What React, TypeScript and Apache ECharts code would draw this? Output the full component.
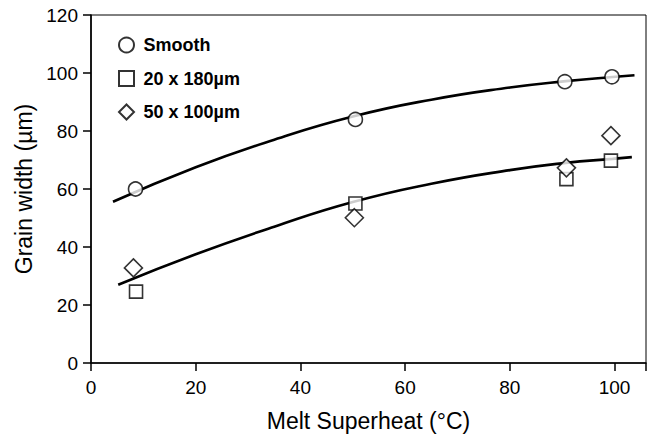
import React, { useEffect, useRef } from "react";
import * as echarts from "echarts";

const xTicks = [0, 20, 40, 60, 80, 100];
const yTicks = [0, 20, 40, 60, 80, 100, 120];

const smooth = [[8.5, 60], [50.5, 84], [90.5, 97], [99.5, 98.7]];
const rect20x180 = [[8.6, 24.6], [50.5, 55], [90.8, 63.4], [99.3, 69.8]];
const diamond50x100 = [[8.1, 32.8], [50.3, 50.1], [90.8, 67.3], [99.3, 78.4]];

const fitSmooth = [[4.2, 55.6], [20, 67.5], [35, 77], [50, 85], [65, 90.8], [80, 95], [90.7, 97.2], [99.6, 98.6], [103.8, 99.2]];
const fitTextured = [[5.2, 27], [20, 37.5], [35, 47], [50, 55.5], [65, 61.8], [80, 66.5], [90.7, 69], [99.6, 70.4], [103.3, 71]];

const names = ["Smooth", "20 x 180\u00b5m", "50 x 100\u00b5m"];

const FONT = "'Liberation Sans', Arial, Helvetica, sans-serif";

export default function App() {
  const ref = useRef<HTMLDivElement>(null);
  useEffect(() => {
    const chart = echarts.init(ref.current!, undefined, { renderer: "svg" });
    const markStyle = { color: "#fff", borderColor: "#000", borderWidth: 1.6 };
    chart.setOption({
      animation: false,
      backgroundColor: "#fff",
      textStyle: { fontFamily: FONT, color: "#000" },
      grid: { left: 91, top: 15, right: 5, bottom: 76, show: true, borderColor: "#000", borderWidth: 1 },
      legend: {
        data: [
          { name: names[0], icon: "circle" },
          { name: names[1], icon: "path://M0,0L10,0L10,10L0,10Z" },
          { name: names[2], icon: "path://M5,0L10,5L5,10L0,5Z" },
        ],
        orient: "vertical",
        left: 113,
        top: 31,
        itemWidth: 24,
        itemHeight: 15,
        itemGap: 15.5,
        symbolKeepAspect: true,
        textStyle: { fontSize: 18, fontWeight: "bold", color: "#000", fontFamily: FONT, lineHeight: 18 },
      },
      xAxis: {
        type: "value",
        min: 0,
        max: 106,
        interval: 20,
        name: "Melt Superheat (\u00b0C)",
        nameLocation: "middle",
        nameGap: 46,
        nameTextStyle: { fontSize: 23, color: "#000", fontFamily: FONT },
        axisLine: { lineStyle: { color: "#000", width: 1.6 } },
        axisTick: { show: true, length: 8, lineStyle: { color: "#000", width: 1.5 } },
        axisLabel: {
          fontSize: 19,
          color: "#000",
          margin: 15,
          formatter: (v: number) => (xTicks.includes(v) ? String(v) : ""),
        },
        splitLine: { show: false },
      },
      yAxis: {
        type: "value",
        min: 0,
        max: 120,
        interval: 20,
        name: "Grain width (\u00b5m)",
        nameLocation: "middle",
        nameGap: 54,
        nameTextStyle: { fontSize: 23, color: "#000", fontFamily: FONT },
        axisLine: { show: true, lineStyle: { color: "#000", width: 1.6 } },
        axisTick: { show: true, length: 8, lineStyle: { color: "#000", width: 1.5 } },
        axisLabel: {
          fontSize: 19,
          color: "#000",
          margin: 13,
          formatter: (v: number) => (yTicks.includes(v) ? String(v) : ""),
        },
        splitLine: { show: false },
      },
      series: [
        {
          name: "fitSmooth",
          type: "line",
          data: fitSmooth,
          smooth: true,
          showSymbol: false,
          lineStyle: { color: "#000", width: 2.6 },
          z: 1,
        },
        {
          name: "fitTextured",
          type: "line",
          data: fitTextured,
          smooth: true,
          showSymbol: false,
          lineStyle: { color: "#000", width: 2.6 },
          z: 1,
        },
        { name: names[0], type: "scatter", symbol: "circle", symbolSize: 14, data: smooth, itemStyle: markStyle, z: 3 },
        { name: names[1], type: "scatter", symbol: "rect", symbolSize: 13, data: rect20x180, itemStyle: markStyle, z: 3 },
        { name: names[2], type: "scatter", symbol: "diamond", symbolSize: 18, data: diamond50x100, itemStyle: markStyle, z: 3 },
      ],
    });
    return () => chart.dispose();
  }, []);
  return <div ref={ref} style={{ width: 651, height: 439, position: "fixed", left: 0, top: 0 }} />;
}
